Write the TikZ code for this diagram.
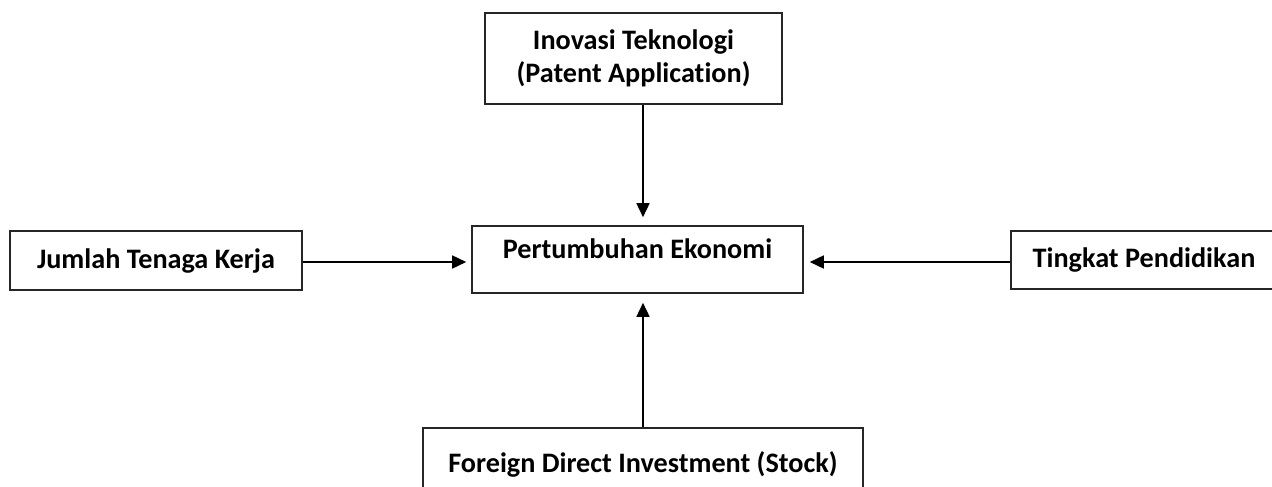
\documentclass[tikz,border=0pt]{standalone}
\usepackage{fontspec}
\setmainfont[Ligatures=NoCommon]{Carlito}
\usetikzlibrary{arrows.meta}
\begin{document}
\begin{tikzpicture}[x=1pt,y=-1pt,
  box/.style={draw=black!85,line width=1.6pt,inner sep=0pt,
    font=\fontsize{28.2}{33}\selectfont\bfseries,align=center,text=black},
  link/.style={draw=black,line width=1.6pt,-{Triangle[length=14pt,width=13pt]}}]
\useasboundingbox (0,0) rectangle (1272,487);
\node[box,minimum width=297pt,minimum height=91pt] (inov) at (633.5,58.5)
  {Inovasi Teknologi\\(Patent Application)};
\node[box,minimum width=331pt,minimum height=67pt,text depth=22pt] (pe) at (637.5,259.5)
  {Pertumbuhan Ekonomi};
\node[box,minimum width=292pt,minimum height=59pt] (jtk) at (156,260.5)
  {Jumlah Tenaga Kerja};
\node[box,minimum width=266pt,minimum height=58pt] (tp) at (1144,260)
  {Tingkat Pendidikan};
\node[box,minimum width=440pt,minimum height=72pt] (fdi) at (643,464)
  {Foreign Direct Investment (Stock)};
\coordinate (col) at (643,0);
\coordinate (row) at (0,262);
\draw[link,shorten >=8pt] (inov.south -| col) -- (pe.north -| col);
\draw[link,shorten >=9pt] (fdi.north -| col) -- (pe.south -| col);
\draw[link,shorten >=5pt] (jtk.east |- row) -- (pe.west |- row);
\draw[link,shorten >=6pt] (tp.west |- row) -- (pe.east |- row);
\end{tikzpicture}
\end{document}
